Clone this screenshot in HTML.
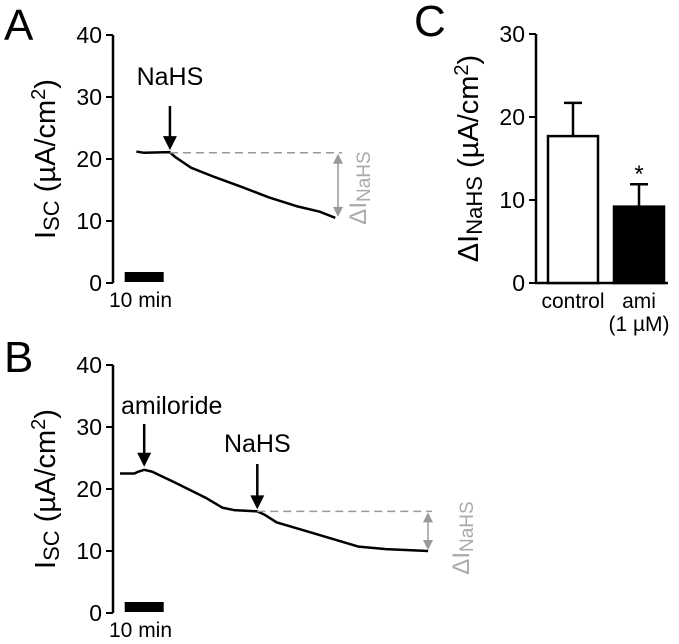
<!DOCTYPE html>
<html><head><meta charset="utf-8"><style>
body{margin:0;background:#fff;}
svg{display:block;font-family:"Liberation Sans",Arial,sans-serif;}
</style></head><body>
<svg id="fig" width="679" height="644" viewBox="0 0 679 644">
<g id="g"></g>
</svg>
<script>
// Panel A trace data (minutes, µA/cm2)
const aTime=[6,8,14.5,16,20,26,33,40,47,53,57];
const aIsc=[21.2,21.0,21.1,20.3,18.6,17.1,15.5,13.8,12.4,11.5,10.5];
// Panel B trace data
const bTime=[1.8,5.5,6.5,8,10,16,24,28,31,37,39,42,48,56,63,70,80.8];
const bIsc=[22.5,22.5,22.8,23.1,22.8,21,18.5,17,16.6,16.4,15.8,14.6,13.5,12,10.7,10.3,10.0];
const yTicks=[0,10,20,30,40];
// Panel C bar data
const cCats=["control","ami"];
const cVals=[17.7,9.2];
const cErr=[4.0,2.7];
const cTicks=[0,10,20,30];

const NS="http://www.w3.org/2000/svg";
const g=document.getElementById('g');
function el(t,a,txt){const e=document.createElementNS(NS,t);for(const k in a)e.setAttribute(k,a[k]);if(txt!=null)e.textContent=txt;g.appendChild(e);return e;}
const xT=t=>113+t*3.9;
const yA=v=>283-v*6.2;
const yB=v=>613-v*6.2;
const yC=v=>283-v*8.3;

function panel(yf,letter,ly,pre){
  let e=el('text',{x:4,y:ly,'font-size':44},letter);
  
  
  e=el('line',{x1:113,x2:113,y1:yf(40),y2:yf(0),stroke:'#000','stroke-width':2.5});
  
  
  yTicks.forEach(v=>{
    el('line',{x1:106,x2:113,y1:yf(v),y2:yf(v),stroke:'#000','stroke-width':2});
    const t=el('text',{x:102,y:yf(v)+8,'font-size':23,'text-anchor':'end'},v);
    
    
  });
  const cy=(yf(40)+yf(0))/2;
  e=el('text',{transform:`translate(55,${cy}) rotate(-90)`,'font-size':29,'text-anchor':'middle'});
  e.innerHTML='I<tspan font-size="22" dy="4">SC</tspan><tspan dy="-4"> (µA/cm</tspan><tspan font-size="20" dy="-10">2</tspan><tspan dy="10">)</tspan>';
  
  
  e=el('rect',{x:xT(3),y:yf(0)-11,width:39,height:10,fill:'#000'});
  
  
  e=el('text',{x:109,y:yf(0)+24,'font-size':21},'10 min');
  
  
}
function trace(ts,vs,yf,pre){
  const d=ts.map((t,i)=>(i?'L':'M')+xT(t)+','+yf(vs[i])).join(' ');
  const p=el('path',{d,fill:'none',stroke:'#000','stroke-width':2.5,'stroke-linejoin':'round'});
  
  
}
function arrow(x,y1,y2,label,lx,ly,anchor,pre){
  el('line',{x1:x,x2:x,y1:y1,y2:y2-10,stroke:'#000','stroke-width':2.5});
  const p=el('path',{d:`M${x-7},${y2-14} L${x+7},${y2-14} L${x},${y2} Z`,fill:'#000'});
  
  
  const t=el('text',{x:lx,y:ly,'font-size':25,'text-anchor':anchor},label);
  
  
}
function delta(x0,x1,vTop,vBot,yf,lx,ly,pre){
  let e=el('line',{x1:x0,x2:x1+4,y1:yf(vTop),y2:yf(vTop),stroke:'#999','stroke-width':1.5,'stroke-dasharray':'8,5'});
  
  
  const x=x1,a=yf(vTop)+1,b=yf(vBot)-1;
  el('line',{x1:x,x2:x,y1:a+6,y2:b-6,stroke:'#999','stroke-width':1.5});
  el('path',{d:`M${x-5},${a+10} L${x+5},${a+10} L${x},${a} Z`,fill:'#999'});
  el('path',{d:`M${x-5},${b-10} L${x+5},${b-10} L${x},${b} Z`,fill:'#999'});
  e=el('text',{transform:`translate(${lx},${ly}) rotate(-90)`,'font-size':24,'text-anchor':'middle',fill:'#aaa'});
  e.innerHTML='ΔI<tspan font-size="19" dy="4">NaHS</tspan>';
  
  
}
// Panel A
panel(yA,'A',40,'a');
trace(aTime,aIsc,yA,'a');
arrow(xT(14.6),106,yA(21.1)-2,'NaHS',xT(14.6),85,'middle','a-nahs');
delta(xT(14.6),338,21.0,10.5,yA,366,188,'a');
// Panel B
panel(yB,'B',372,'b');
trace(bTime,bIsc,yB,'b');
arrow(xT(8),424,yB(23.1)-3,'amiloride',121,414,'start','b-amiloride');
arrow(xT(37),464,yB(16.4)-2,'NaHS',xT(37),452,'middle','b-nahs');
delta(xT(37),428,16.4,10.0,yB,469,538,'b');
// Panel C
let e=el('text',{x:414,y:36,'font-size':44},'C');


e=el('line',{x1:536,x2:536,y1:yC(30),y2:yC(0)+1,stroke:'#000','stroke-width':2.5});


e=el('line',{x1:535,x2:668,y1:yC(0),y2:yC(0),stroke:'#000','stroke-width':2.5});


cTicks.forEach(v=>{
  el('line',{x1:529,x2:536,y1:yC(v),y2:yC(v),stroke:'#000','stroke-width':2});
  const t=el('text',{x:525,y:yC(v)+8,'font-size':23,'text-anchor':'end'},v);
  
  
});
e=el('text',{transform:`translate(478,${yC(15)}) rotate(-90)`,'font-size':29,'text-anchor':'middle'});
e.innerHTML='ΔI<tspan font-size="22" dy="4">NaHS</tspan><tspan dy="-4"> (µA/cm</tspan><tspan font-size="20" dy="-10">2</tspan><tspan dy="10">)</tspan>';


const bx=[548,614],bw=50;
cVals.forEach((v,i)=>{
  const cx=bx[i]+bw/2;
  const l=el('line',{x1:cx,x2:cx,y1:yC(v),y2:yC(v+cErr[i]),stroke:'#000','stroke-width':2.5});
  
  
  el('line',{x1:cx-9,x2:cx+9,y1:yC(v+cErr[i]),y2:yC(v+cErr[i]),stroke:'#000','stroke-width':2.5});
  const r=el('rect',{x:bx[i],y:yC(v),width:bw,height:yC(0)-yC(v),fill:i?'#000':'#fff',stroke:'#000','stroke-width':2.5});
  
  
  const t=el('text',{x:cx,y:308,'font-size':21,'text-anchor':'middle'},cCats[i]);
  
  
});
e=el('text',{x:bx[1]+bw/2,y:331,'font-size':21,'text-anchor':'middle'},'(1 µM)');


e=el('text',{x:bx[1]+bw/2,y:yC(cVals[1]+cErr[1])-2,'font-size':24,'text-anchor':'middle'},'*');


</script>
</body></html>
